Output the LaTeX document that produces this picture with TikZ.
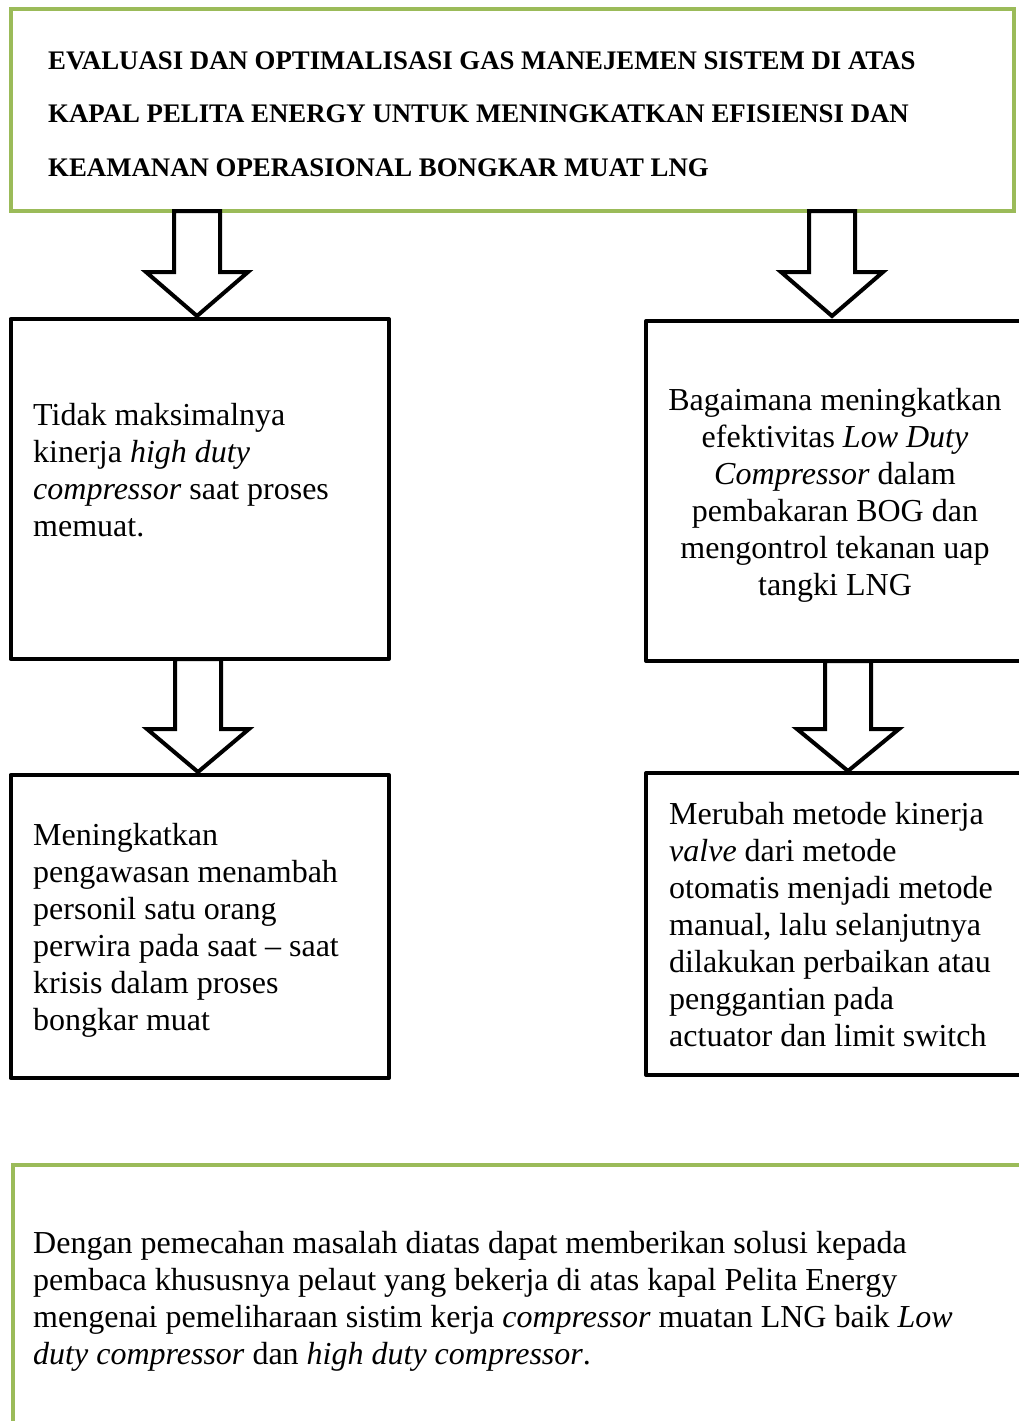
\documentclass[tikz,border=0pt]{standalone}
\usepackage{fontspec}
\setmainfont{Liberation Serif}[BoldFont={Liberation Serif Bold},ItalicFont={Liberation Serif Italic},BoldItalicFont={Liberation Serif Bold Italic}]
\definecolor{olivegreen}{HTML}{9BBB59}
\tikzset{
  greenbox/.style={draw=olivegreen, line width=4.2pt},
  blackbox/.style={draw=black, line width=4pt, line join=round},
  blockarrow/.style={draw=black, fill=white, line width=4pt, line join=miter},
  bodytext/.style={inner sep=0pt, font=\fontsize{32}{37}\selectfont},
  titletext/.style={inner sep=0pt, align=left, font=\bfseries\fontsize{26.8}{53.5}\selectfont},
}
% block arrow: center x, top y, head start y, tip y
\newcommand\myBlockArrow[4]{%
  \draw[blockarrow] (#1-23,#2) -- (#1+23,#2) -- (#1+23,#3) -- (#1+51,#3)
    -- (#1,#4) -- (#1-51,#3) -- (#1-23,#3) -- cycle;}
\begin{document}
\begin{tikzpicture}[x=1pt,y=-1pt]
\useasboundingbox (0,0) rectangle (1018,1421);
\fill[white] (0,0) rectangle (1018,1421);

% boxes
\draw[greenbox] (11,9) rectangle (1014,211);
\draw[blackbox] (10.5,319) rectangle (389,659);
\draw[blackbox] (646,321) rectangle (1040,661);
\draw[blackbox] (10.5,775) rectangle (389,1078);
\draw[blackbox] (646,773) rectangle (1040,1075);
\draw[greenbox] (13,1165) -- (1040,1165);
\draw[greenbox] (13,1163) -- (13,1440);

% texts (anchored at the baseline of the last line)
\node[titletext, anchor=base west] (title) at (48,176)
  {EVALUASI DAN OPTIMALISASI GAS MANEJEMEN SISTEM DI ATAS\\
   KAPAL PELITA ENERGY UNTUK MENINGKATKAN EFISIENSI DAN\\
   KEAMANAN OPERASIONAL BONGKAR MUAT LNG};

\node[bodytext, align=left, anchor=base west] (p1) at (33,536)
  {Tidak maksimalnya\\ kinerja \textit{high duty}\\ \textit{compressor} saat proses\\ memuat.};

\node[bodytext, align=center, anchor=base] (p2) at (835,595)
  {Bagaimana meningkatkan\\ efektivitas \textit{Low Duty}\\ \textit{Compressor} dalam\\ pembakaran BOG dan\\ mengontrol tekanan uap\\ tangki LNG};

\node[bodytext, align=left, anchor=base west] (s1) at (33,1030)
  {Meningkatkan\\ pengawasan menambah\\ personil satu orang\\ perwira pada saat -- saat\\ krisis dalam proses\\ bongkar muat};

\node[bodytext, align=left, anchor=base west] (s2) at (669,1046)
  {Merubah metode kinerja\\ \textit{valve} dari metode\\ otomatis menjadi metode\\ manual, lalu selanjutnya\\ dilakukan perbaikan atau\\ penggantian pada\\ actuator dan limit switch};

\node[bodytext, align=left, anchor=base west] (concl) at (33,1364)
  {Dengan pemecahan masalah diatas dapat memberikan solusi kepada\\
   pembaca khususnya pelaut yang bekerja di atas kapal Pelita Energy\\
   mengenai pemeliharaan sistim kerja \textit{compressor} muatan LNG baik \textit{Low}\\
   \textit{duty compressor} dan \textit{high duty compressor}.};

% block arrows
\myBlockArrow{197}{211}{272}{316}
\myBlockArrow{832}{211}{272}{316}
\myBlockArrow{198}{659}{729}{772}
\myBlockArrow{848}{661}{729}{771}
\end{tikzpicture}
\end{document}
